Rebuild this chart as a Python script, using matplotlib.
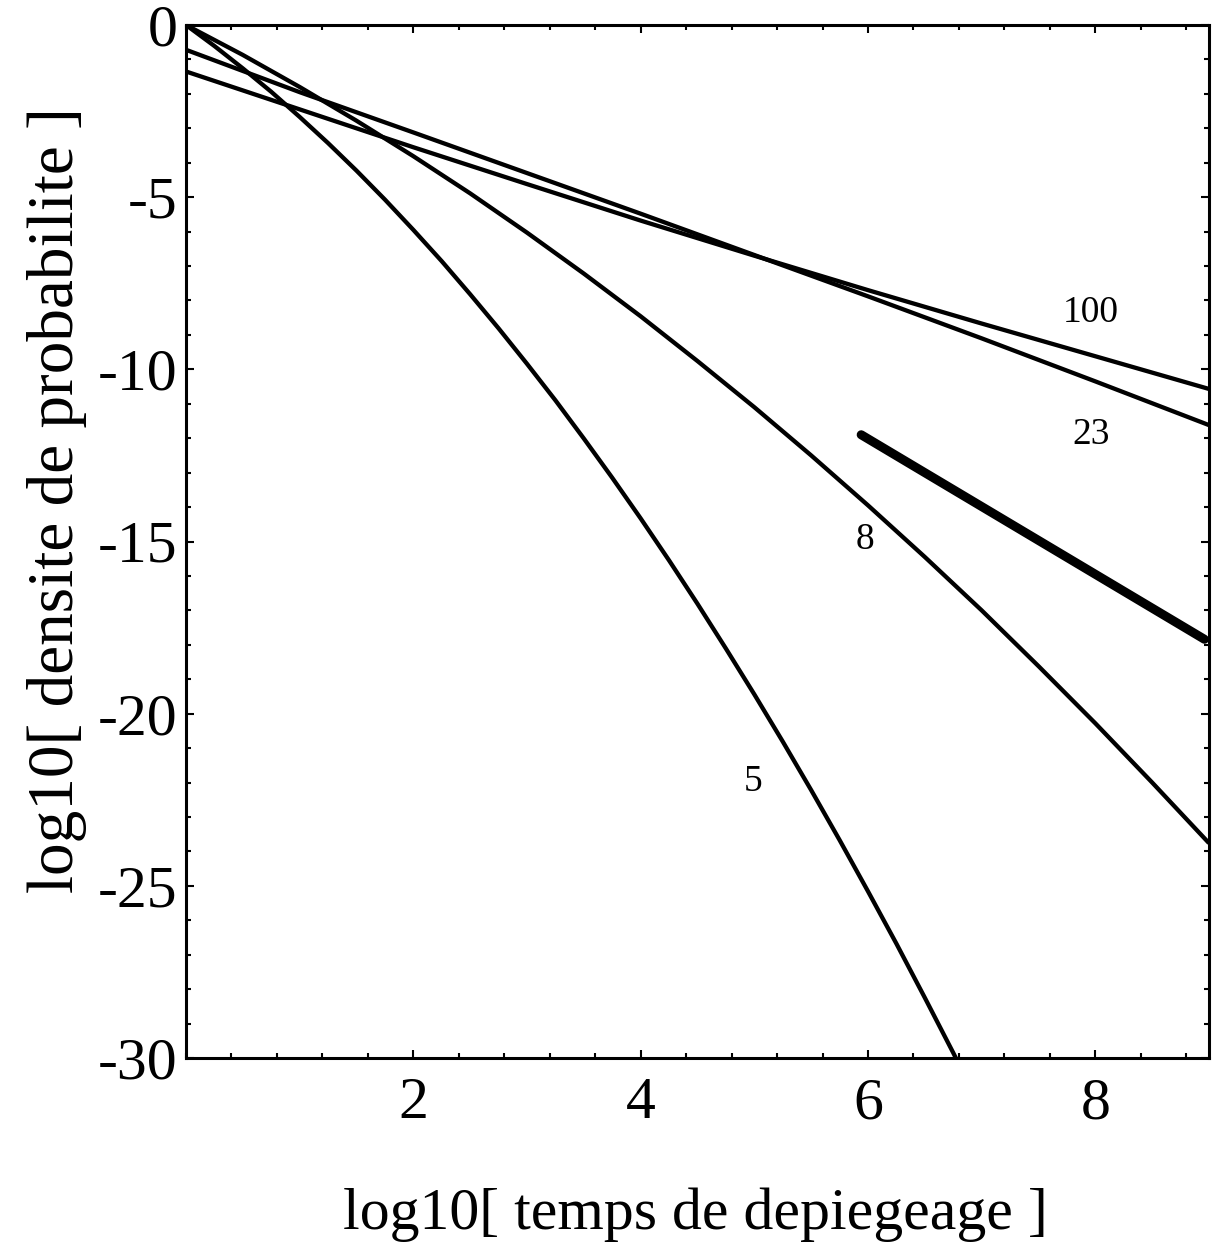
import matplotlib
matplotlib.use("Agg")
import matplotlib.pyplot as plt
from matplotlib.ticker import MultipleLocator, FixedLocator

plt.rcParams['font.family'] = ['Liberation Serif', 'DejaVu Serif']
plt.rcParams['axes.unicode_minus'] = False

# ---- data ----
x_5 = [0, 0.25, 0.5, 0.75, 1, 1.25, 1.5, 1.75, 2, 2.25, 2.5, 2.75, 3, 3.25,
       3.5, 3.75, 4, 4.25, 4.5, 4.75, 5, 5.25, 5.5, 5.75, 6, 6.25, 6.5, 6.75, 7]
y_5 = [0, -0.61, -1.26, -1.94, -2.67, -3.43, -4.23, -5.07, -5.95, -6.86,
       -7.82, -8.81, -9.84, -10.90, -12.01, -13.15, -14.33, -15.55, -16.81,
       -18.11, -19.44, -20.81, -22.22, -23.67, -25.16, -26.68, -28.25, -29.85,
       -31.5]

x_8 = [0, 0.5, 1, 1.5, 2, 2.5, 3, 3.5, 4, 4.5, 5, 5.5, 6, 6.5, 7, 7.5, 8, 8.5, 9]
y_8 = [0, -0.87, -1.80, -2.78, -3.81, -4.89, -6.03, -7.22, -8.46, -9.76,
       -11.10, -12.50, -13.95, -15.45, -17.00, -18.62, -20.28, -22.00, -23.76]

x_23 = [0, 1, 2, 3, 4, 5, 6, 7, 8, 9]
y_23 = [-0.72, -1.95, -3.12, -4.30, -5.48, -6.68, -7.88, -9.10, -10.35, -11.62]

x_100 = [0, 1, 2, 3, 4, 5, 6, 7, 8, 9]
y_100 = [-1.35, -2.45, -3.55, -4.62, -5.68, -6.70, -7.70, -8.67, -9.62, -10.57]

x_thick = [5.94, 8.96]
y_thick = [-11.9, -17.84]

curve_labels = ['100', '23', '8', '5']
label_x = [7.96, 7.96, 5.97, 4.99]
label_y = [-8.37, -11.9, -14.94, -21.99]

x_ticks = [2, 4, 6, 8]
y_ticks = [0, -5, -10, -15, -20, -25, -30]

# ---- figure ----
fig = plt.figure(figsize=(12.22, 12.53), dpi=100)
ax = fig.add_axes([186/1222, 1 - 1058/1253, (1209-186)/1222, (1058-25)/1253])

lw = 3.1
for xs, ys in [(x_5, y_5), (x_8, y_8), (x_23, y_23), (x_100, y_100)]:
    ax.plot(xs, ys, color='black', lw=lw, solid_capstyle='butt',
            solid_joinstyle='round')
ax.plot(x_thick, y_thick, color='black', lw=6.5, solid_capstyle='round')

for t, xx, yy in zip(curve_labels, label_x, label_y):
    ax.text(xx, yy, t, fontsize=27, ha='center', va='center')

ax.set_xlim(0, 9)
ax.set_ylim(-30, 0)

ax.xaxis.set_major_locator(FixedLocator(x_ticks))
ax.xaxis.set_minor_locator(MultipleLocator(0.4))
ax.yaxis.set_major_locator(FixedLocator(y_ticks))
ax.yaxis.set_minor_locator(MultipleLocator(1))

ax.tick_params(which='both', direction='in', top=True, right=True, width=1.5,
               colors='black')
ax.tick_params(which='major', length=6)
ax.tick_params(which='minor', length=3.5)
ax.tick_params(axis='x', which='major', labelsize=43, pad=14)
ax.tick_params(axis='y', which='major', labelsize=43, pad=6)

for s in ax.spines.values():
    s.set_linewidth(2.2)

ax.set_xlabel('log10[ temps de depiegeage ]', fontsize=43)
ax.set_ylabel('log10[ densite de probabilite ]', fontsize=47)
ax.xaxis.set_label_coords(0.498, -0.152)
ax.yaxis.set_label_coords(-0.126, 0.54)
ax.xaxis.label.set_va('center')
ax.yaxis.label.set_va('center')

fig.savefig('out.png', dpi=100)
